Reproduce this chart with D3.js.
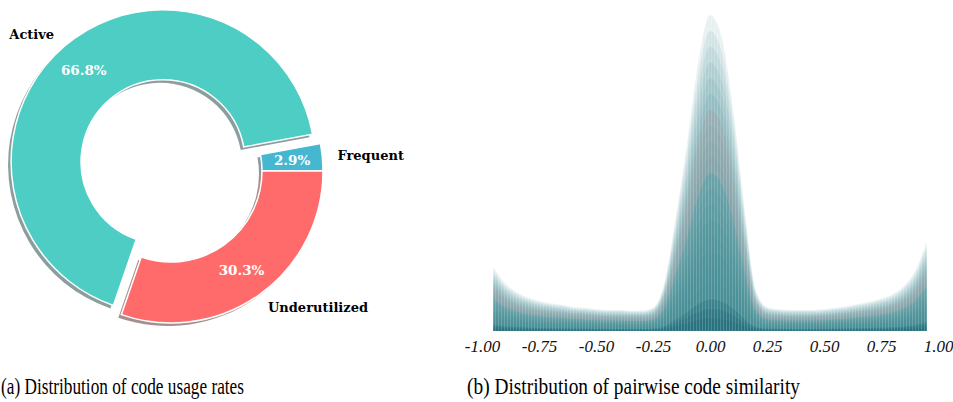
<!doctype html>
<html>
<head>
<meta charset="UTF-8">
<title>Code usage and similarity</title>
<script src="https://cdn.jsdelivr.net/npm/d3@7"></script>
<style>
    body { margin: 0; background: #fff; }
    svg { display: block; }
</style>
</head>
<body>
<svg id="fig" width="953" height="402"></svg>

<script>
// (a) donut data
var usageNames = ["Frequent", "Active", "Underutilized"];
var usageShares = [2.9, 66.8, 30.3];
var usageColors = ["#45B7D1", "#4ECDC4", "#FF6B6B"];
var usageExplode = [0, 0.08, 0];

// (b) outer envelope of the similarity densities
var simX = [-0.95, -0.90, -0.85, -0.80, -0.75, -0.70, -0.65, -0.60, -0.55, -0.50,
            -0.45, -0.40, -0.35, -0.30, -0.25, -0.20, -0.15, -0.10, -0.05, 0.00,
             0.05, 0.10, 0.15, 0.20, 0.25, 0.30, 0.35, 0.40, 0.45, 0.50,
             0.55, 0.60, 0.65, 0.70, 0.75, 0.80, 0.85, 0.90, 0.95];
var simDensity = [0.85, 0.64, 0.52, 0.45, 0.40, 0.37, 0.35, 0.32, 0.31, 0.29,
                  0.28, 0.28, 0.27, 0.27, 0.31, 0.64, 1.52, 2.51, 3.61, 4.21,
                  3.93, 2.99, 1.67, 0.55, 0.32, 0.29, 0.28, 0.28, 0.28, 0.29,
                  0.31, 0.33, 0.36, 0.39, 0.43, 0.49, 0.60, 0.80, 1.19];
// overlaid runs, as a fraction of the envelope
var layerScales = [1.00, 0.95, 0.90, 0.85, 0.80, 0.75, 0.70, 0.65, 0.60, 0.55,
                   0.50, 0.45, 0.40, 0.35, 0.30, 0.25, 0.20, 0.15];
var bandScales = [0.50, 0.70];
var coreScales = [0.10, 0.07, 0.04];
var simTicks = [-1, -0.75, -0.5, -0.25, 0, 0.25, 0.5, 0.75, 1];

var captions = ["(a) Distribution of code usage rates",
                "(b) Distribution of pairwise code similarity"];

var svg = d3.select("#fig");

// ---------- (a) donut ----------
var cx = 171, cy = 171, R = 152;
var pie = d3.pie().sort(null)
    .startAngle(Math.PI / 2)
    .endAngle(Math.PI / 2 - 2 * Math.PI);
var arcs = pie(usageShares);
var arc = d3.arc()
    .innerRadius(function(d) { return d.index === 1 ? 82 : 91; })
    .outerRadius(R);

var g1 = svg.append("g").attr("transform", "translate(" + cx + "," + cy + ")");

function shift(d, i) {
    var a = (d.startAngle + d.endAngle) / 2;
    var e = usageExplode[i] * R;
    return [Math.sin(a) * e, -Math.cos(a) * e];
}
function polar(d, i, rad) {
    var a = (d.startAngle + d.endAngle) / 2;
    var o = shift(d, i);
    return [o[0] + Math.sin(a) * rad, o[1] - Math.cos(a) * rad];
}

// shadows first
g1.selectAll("path.shadow").data(arcs).enter().append("path")
    .attr("class", "shadow")
    .attr("d", arc)
    .attr("transform", function(d, i) {
        var o = shift(d, i);
        return "translate(" + (o[0] - 3) + "," + (o[1] + 3) + ")";
    })
    .attr("fill", function(d, i) {
        var c = d3.rgb(usageColors[i]);
        return d3.rgb(c.r * 0.3, c.g * 0.3, c.b * 0.3);
    })
    .attr("opacity", 0.5);

g1.selectAll("path.wedge").data(arcs).enter().append("path")
    .attr("class", "wedge")
    .attr("d", arc)
    .attr("transform", function(d, i) {
        var o = shift(d, i);
        return "translate(" + o[0] + "," + o[1] + ")";
    })
    .attr("fill", function(d, i) { return usageColors[i]; })
    .attr("stroke", "#fff")
    .attr("stroke-width", 1.5);

g1.selectAll("text.name").data(arcs).enter().append("text")
    .attr("class", "name")
    .attr("x", function(d, i) { return polar(d, i, 1.1 * R)[0]; })
    .attr("y", function(d, i) { return polar(d, i, 1.1 * R)[1]; })
    .attr("text-anchor", function(d, i) { return polar(d, i, 1.1 * R)[0] > 0 ? "start" : "end"; })
    .attr("dominant-baseline", "central")
    .attr("font-family", "DejaVu Serif")
    .attr("font-weight", "bold")
    .attr("font-size", 13)
    .attr("fill", "#000")
    .text(function(d, i) { return usageNames[i]; });

g1.selectAll("text.pct").data(arcs).enter().append("text")
    .attr("class", "pct")
    .attr("x", function(d, i) { return polar(d, i, 0.8 * R)[0]; })
    .attr("y", function(d, i) { return polar(d, i, 0.8 * R)[1]; })
    .attr("text-anchor", "middle")
    .attr("dominant-baseline", "central")
    .attr("font-family", "DejaVu Serif")
    .attr("font-weight", "bold")
    .attr("font-size", 13.5)
    .attr("fill", "#fff")
    .text(function(d, i) { return usageShares[i].toFixed(1) + "%"; });

// ---------- (b) similarity ----------
var x = d3.scaleLinear().domain([-1, 1]).range([482, 938]);
var y = d3.scaleLinear().domain([0, 4.2]).range([331, 16]);
var pts = simX.map(function(v, i) { return [v, simDensity[i]]; });

function areaFor(k) {
    return d3.area()
        .x(function(d) { return x(d[0]); })
        .y0(y(0))
        .y1(function(d) { return y(d[1] * k); })
        .curve(d3.curveMonotoneX);
}
var band = d3.area()
    .x(function(d) { return x(d[0]); })
    .y0(function(d) { return y(d[1] * bandScales[0]); })
    .y1(function(d) { return y(d[1] * bandScales[1]); })
    .curve(d3.curveMonotoneX);

var defs = svg.append("defs");
var pat = defs.append("pattern").attr("id", "stripes")
    .attr("patternUnits", "userSpaceOnUse")
    .attr("width", 3).attr("height", 10);
pat.append("rect").attr("x", 0).attr("y", 0).attr("width", 1).attr("height", 10)
    .attr("fill", "#fff").attr("opacity", 0.18);

var g2 = svg.append("g");
g2.selectAll("path.layer").data(layerScales).enter().append("path")
    .attr("class", "layer")
    .attr("d", function(k) { return areaFor(k)(pts); })
    .attr("fill", "#35808f")
    .attr("fill-opacity", 0.115);

g2.append("path")
    .attr("d", band(pts))
    .attr("fill", "#b8a2a4")
    .attr("fill-opacity", 0.3);

g2.selectAll("path.core").data(coreScales).enter().append("path")
    .attr("class", "core")
    .attr("d", function(k) { return areaFor(k)(pts); })
    .attr("fill", "#14616f")
    .attr("fill-opacity", 0.25);

g2.append("path")
    .attr("d", areaFor(1)(pts))
    .attr("fill", "url(#stripes)");

var ax = svg.append("g")
    .attr("transform", "translate(0,337)")
    .call(d3.axisBottom(x).tickValues(simTicks).tickSize(0)
        .tickFormat(function(d) { return d.toFixed(2); }));
ax.select(".domain").remove();
ax.selectAll("text")
    .attr("font-family", "Liberation Serif")
    .attr("font-style", "italic")
    .attr("font-size", 17)
    .attr("fill", "#111");

// captions
var capX = [1, 467], capW = [243, 333];
svg.selectAll("text.cap").data(captions).enter().append("text")
    .attr("class", "cap")
    .attr("x", function(d, i) { return capX[i]; })
    .attr("y", 394)
    .attr("textLength", function(d, i) { return capW[i]; })
    .attr("lengthAdjust", "spacingAndGlyphs")
    .attr("font-family", "Liberation Serif")
    .attr("font-size", 23)
    .attr("fill", "#000")
    .text(function(d) { return d; });
</script>
</body>
</html>
